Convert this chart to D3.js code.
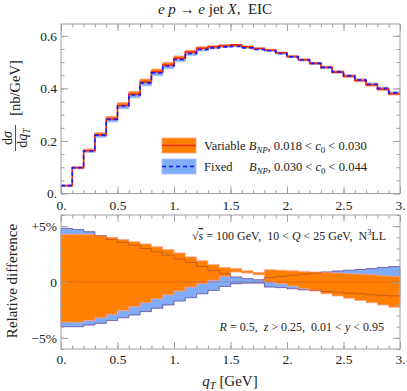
<!DOCTYPE html>
<html>
<head>
<meta charset="utf-8">
<script src="https://cdn.jsdelivr.net/npm/d3@7"></script>
<style>
  body { margin: 0; background: #fff; }
  svg text { font-family: "Liberation Serif", serif; fill: #222; white-space: pre; }
</style>
</head>
<body>
<svg id="chart" width="407" height="391" font-family="Liberation Serif"></svg>
<script>
// qT bins (lower edges), last bin ends at 3.0
const qtLow = [0, 0.1, 0.2, 0.3, 0.4, 0.5, 0.6, 0.7, 0.8, 0.9,
               1.0, 1.1, 1.2, 1.3, 1.4, 1.5, 1.6, 1.7, 1.8, 1.9,
               2.0, 2.1, 2.2, 2.3, 2.4, 2.5, 2.6, 2.7, 2.8, 2.9];
const qtEnd = 3.0;

// dsigma/dqT [nb/GeV], central value (fixed B_NP)
const sigma = [0.030, 0.098, 0.162, 0.222, 0.282, 0.333, 0.375, 0.421, 0.459, 0.485,
               0.510, 0.533, 0.548, 0.554, 0.558, 0.560, 0.554, 0.548, 0.543, 0.533,
               0.520, 0.508, 0.495, 0.480, 0.463, 0.448, 0.432, 0.416, 0.400, 0.383];

// relative difference [%], variable B_NP band
const varUp = [4.25, 4.25, 4.25, 4.15, 4.0, 3.8, 3.6, 3.4, 3.15, 2.9,
               2.6, 2.25, 1.9, 1.55, 1.3, 1.2, 1.0, 0.85, 1.1, 1.05,
               1.0, 0.95, 0.9, 0.85, 0.8, 0.75, 0.7, 0.65, 0.55, 0.5];
const varLo = [-3.6, -3.6, -3.45, -3.2, -2.9, -2.55, -2.2, -1.85, -1.5, -1.15,
               -0.8, -0.45, -0.15, 0.15, 0.5, 0.9, 0.8, 0.65, 0.0, -0.15,
               -0.35, -0.6, -0.8, -1.05, -1.25, -1.45, -1.65, -1.85, -2.05, -2.25];
const varMid = [0.3, 0.3, 0.4, 0.5, 0.55, 0.6, 0.7, 0.75, 0.8, 0.85,
                0.9, 0.9, 0.85, 0.85, 0.85, 1.0, 0.9, 0.75, 0.55, 0.45,
                0.3, 0.2, 0.05, -0.1, -0.25, -0.35, -0.5, -0.6, -0.75, -0.9];

// relative difference [%], fixed B_NP band
const fixUp = [4.8, 4.7, 4.5, 4.15, 3.8, 3.55, 3.3, 3.0, 2.7, 2.4,
               2.05, 1.75, 1.4, 1.05, 0.75, 0.45, 0.3, 0.2, 0.4, 0.5,
               0.6, 0.7, 0.8, 0.9, 0.98, 1.05, 1.12, 1.2, 1.3, 1.38];
const fixLo = [-4.0, -4.0, -3.85, -3.7, -3.45, -3.2, -2.95, -2.65, -2.35, -2.05,
               -1.7, -1.4, -1.05, -0.75, -0.4, -0.15, -0.1, -0.1, -0.45, -0.5,
               -0.6, -0.7, -0.75, -0.85, -0.9, -1.0, -1.05, -1.15, -1.2, -1.25];

const xMajor = [0, 0.5, 1, 1.5, 2, 2.5, 3];
const topYMajor = [0, 0.2, 0.4, 0.6];
const botYMajor = [-5, 0, 5];
const botYLabels = ["\u22125%", "0", "+5%"];

const orange = "#ff8000", orangeEdge = "#ffa08c", redLine = "#f02c18";
const blue = "#80acf8", blueEdge = "#6a88ea", blueLine = "#1a1aff";
const frameCol = "#a0a0a0";

const svg = d3.select("#chart");

const x = d3.scaleLinear().domain([0, 3]).range([61, 400]);
const yTop = d3.scaleLinear().domain([0, 0.645]).range([193.5, 24]);
const yBot = d3.scaleLinear().domain([-6, 6]).range([349, 215]);

// points for a step curve: one per bin plus the closing edge
function stepPts(f) {
  const pts = qtLow.map((q, i) => ({ q: q, i: i }));
  pts.push({ q: qtEnd, i: qtLow.length - 1 });
  return pts.map(p => ({ q: p.q, v: f(p.i) }));
}
function bandPts(fLo, fHi) {
  const pts = qtLow.map((q, i) => ({ q: q, i: i }));
  pts.push({ q: qtEnd, i: qtLow.length - 1 });
  return pts.map(p => ({ q: p.q, lo: fLo(p.i), hi: fHi(p.i) }));
}

function drawFrame(g, y, yMinor, yMajor, yFmt, xPad) {
  const [x0, x1] = x.range();
  const [yb, yt] = y.range();
  const xMinor = d3.range(0, 31).map(i => i / 10);
  const fmtX = d => Number.isInteger(d) ? d + "." : String(d);

  const axes = [
    [d3.axisBottom(x).tickValues(xMinor).tickSize(-3.5).tickFormat(""), `translate(0,${yb})`],
    [d3.axisTop(x).tickValues(xMinor).tickSize(-3.5).tickFormat(""), `translate(0,${yt})`],
    [d3.axisTop(x).tickValues(xMajor).tickSize(-7).tickFormat(""), `translate(0,${yt})`],
    [d3.axisLeft(y).tickValues(yMinor).tickSize(-3.5).tickFormat(""), `translate(${x0},0)`],
    [d3.axisRight(y).tickValues(yMinor).tickSize(-3.5).tickFormat(""), `translate(${x1},0)`],
    [d3.axisRight(y).tickValues(yMajor).tickSize(-7).tickFormat(""), `translate(${x1},0)`],
    [d3.axisBottom(x).tickValues(xMajor).tickSizeInner(-7).tickSizeOuter(0).tickPadding(xPad).tickFormat(fmtX), `translate(0,${yb})`],
    [d3.axisLeft(y).tickValues(yMajor).tickSizeInner(-7).tickSizeOuter(0).tickPadding(4).tickFormat(yFmt), `translate(${x0},0)`]
  ];
  axes.forEach(([ax, tr]) => {
    const a = g.append("g").attr("transform", tr).attr("color", frameCol).call(ax)
      .attr("font-family", null).attr("font-size", null);
    a.select(".domain").remove();
    a.selectAll("text").attr("font-size", 13.5);
  });

  g.append("rect")
    .attr("x", x0).attr("y", yt)
    .attr("width", x1 - x0).attr("height", yb - yt)
    .attr("fill", "none").attr("stroke", frameCol).attr("stroke-width", 1);
}

// rich text: parts = [text, kind]
function rich(t, parts) {
  parts.forEach(([s, k]) => {
    const ts = t.append("tspan").text(s);
    if (k === "i") ts.attr("font-style", "italic");
    if (k === "io") ts.attr("font-style", "italic").style("text-decoration", "overline");
    if (k === "sub") ts.attr("font-style", "italic").attr("font-size", "0.7em").attr("dy", 3);
    if (k === "sub0") ts.attr("font-size", "0.7em").attr("dy", 3);
    if (k === "sup") ts.attr("font-size", "0.7em").attr("dy", -5);
    if (k === "back") ts.attr("dy", -3);
    if (k === "back2") ts.attr("dy", 5);
  });
  return t;
}

const areaT = d3.area().curve(d3.curveStepAfter).x(d => x(d.q)).y0(d => yTop(d.lo)).y1(d => yTop(d.hi));
const lineT = d3.line().curve(d3.curveStepAfter).x(d => x(d.q)).y(d => yTop(d.v));
const areaB = d3.area().curve(d3.curveStepAfter).x(d => x(d.q)).y0(d => yBot(d.lo)).y1(d => yBot(d.hi));
const lineB = d3.line().curve(d3.curveStepAfter).x(d => x(d.q)).y(d => yBot(d.v));

// ---------- top panel ----------
const topG = svg.append("g");

// orange lower half, blue full band, orange upper half
topG.append("path")
  .attr("d", areaT(bandPts(i => sigma[i] * (1 + varLo[i] / 100), i => sigma[i])))
  .attr("fill", orange).attr("stroke", orangeEdge).attr("stroke-width", 0.8);
topG.append("path")
  .attr("d", areaT(bandPts(i => sigma[i] * (1 + fixLo[i] / 100), i => sigma[i] * (1 + fixUp[i] / 100))))
  .attr("fill", blue).attr("stroke", "#a8c4fa").attr("stroke-width", 0.8);
topG.append("path")
  .attr("d", areaT(bandPts(i => sigma[i], i => sigma[i] * (1 + varUp[i] / 100))))
  .attr("fill", orange).attr("stroke", orangeEdge).attr("stroke-width", 0.8);

topG.append("path")
  .attr("d", lineT(stepPts(i => sigma[i] * (1 + varMid[i] / 100))))
  .attr("fill", "none").attr("stroke", redLine).attr("stroke-width", 1.6);
topG.append("path")
  .attr("d", lineT(stepPts(i => sigma[i])))
  .attr("fill", "none").attr("stroke", blueLine).attr("stroke-width", 1.6)
  .attr("stroke-dasharray", "4,3");

drawFrame(topG, yTop, d3.range(0, 13).map(i => i * 0.05), topYMajor,
  d => d === 0 ? "0." : d.toFixed(1), 7);

// legend
const leg = svg.append("g");
leg.append("rect").attr("x", 162).attr("y", 138).attr("width", 34).attr("height", 15)
  .attr("fill", orange).attr("stroke", orangeEdge).attr("stroke-width", 0.8);
leg.append("line").attr("x1", 162).attr("x2", 196).attr("y1", 145.5).attr("y2", 145.5)
  .attr("stroke", redLine).attr("stroke-width", 1.6);
leg.append("rect").attr("x", 162).attr("y", 159).attr("width", 34).attr("height", 15)
  .attr("fill", blue).attr("stroke", "#a8c4fa").attr("stroke-width", 0.8);
leg.append("line").attr("x1", 162).attr("x2", 196).attr("y1", 166.5).attr("y2", 166.5)
  .attr("stroke", blueLine).attr("stroke-width", 1.6).attr("stroke-dasharray", "4,3");
rich(leg.append("text").attr("x", 204).attr("y", 150).attr("font-size", 12.5),
  [["Variable ", ""], ["B", "i"], ["NP", "sub"], [", 0.018 < ", "back"], ["c", "i"], ["0", "sub0"], [" < 0.030", "back"]]);
leg.append("text").attr("x", 204).attr("y", 171).attr("font-size", 12.5).text("Fixed");
rich(leg.append("text").attr("x", 249).attr("y", 171).attr("font-size", 12.5),
  [["B", "i"], ["NP", "sub"], [", 0.030 < ", "back"], ["c", "i"], ["0", "sub0"], [" < 0.044", "back"]]);

// title
rich(svg.append("text").attr("x", 215).attr("y", 14).attr("text-anchor", "middle").attr("font-size", 15),
  [["e", "i"], [" ", ""], ["p", "i"], [" \u2192 ", ""], ["e", "i"], [" jet ", ""], ["X", "i"], [",  EIC", ""]]);

// top y label (fraction)
const yl = svg.append("g").attr("transform", "translate(15,113) rotate(-90)");
rich(yl.append("text").attr("x", -25).attr("y", -3).attr("text-anchor", "middle").attr("font-size", 14),
  [["d", ""], ["\u03c3", "i"]]);
yl.append("line").attr("x1", -38).attr("x2", -12).attr("y1", 0.5).attr("y2", 0.5)
  .attr("stroke", "#222").attr("stroke-width", 0.8);
rich(yl.append("text").attr("x", -25).attr("y", 12).attr("text-anchor", "middle").attr("font-size", 14),
  [["d", ""], ["q", "i"], ["T", "sub"]]);
yl.append("text").attr("x", 25).attr("y", 5).attr("text-anchor", "middle").attr("font-size", 14.5)
  .text("[nb/GeV]");

// ---------- bottom panel ----------
const bot = svg.append("g");
bot.append("path")
  .attr("d", areaB(bandPts(i => fixLo[i], i => fixUp[i])))
  .attr("fill", blue).attr("stroke", blueEdge).attr("stroke-width", 0.8);
bot.append("path")
  .attr("d", areaB(bandPts(i => varLo[i], i => varUp[i])))
  .attr("fill", orange).attr("stroke", orangeEdge).attr("stroke-width", 0.8);

// fixed-band edges and central line seen through
[fixUp, fixLo].forEach(arr => {
  bot.append("path")
    .attr("d", lineB(stepPts(i => arr[i])))
    .attr("fill", "none").attr("stroke", "rgba(120,45,80,0.5)").attr("stroke-width", 0.8);
});
bot.append("line").attr("x1", x(0)).attr("x2", x(3)).attr("y1", yBot(0)).attr("y2", yBot(0))
  .attr("stroke", "rgba(150,60,60,0.45)").attr("stroke-width", 0.8);

drawFrame(bot, yBot, d3.range(-6, 7), botYMajor,
  d => botYLabels[botYMajor.indexOf(d)], 5);

rich(bot.append("text").attr("x", 386).attr("y", 240).attr("text-anchor", "end").attr("font-size", 12),
  [["\u221a", ""], ["s", "io"], [" = 100 GeV,  10 < ", ""], ["Q", "i"], [" < 25 GeV,  N", ""], ["3", "sup"], ["LL", "back2"]]);
rich(bot.append("text").attr("x", 384).attr("y", 331).attr("text-anchor", "end").attr("font-size", 12),
  [["R", "i"], [" = 0.5,  ", ""], ["z", "i"], [" > 0.25,  0.01 < ", ""], ["y", "i"], [" < 0.95", ""]]);

svg.append("text").attr("transform", "translate(17,281) rotate(-90)")
  .attr("text-anchor", "middle").attr("font-size", 15).text("Relative difference");

rich(svg.append("text").attr("x", 230).attr("y", 386).attr("text-anchor", "middle").attr("font-size", 15),
  [["q", "i"], ["T", "sub"], [" [GeV]", "back"]]);
</script>
</body>
</html>
